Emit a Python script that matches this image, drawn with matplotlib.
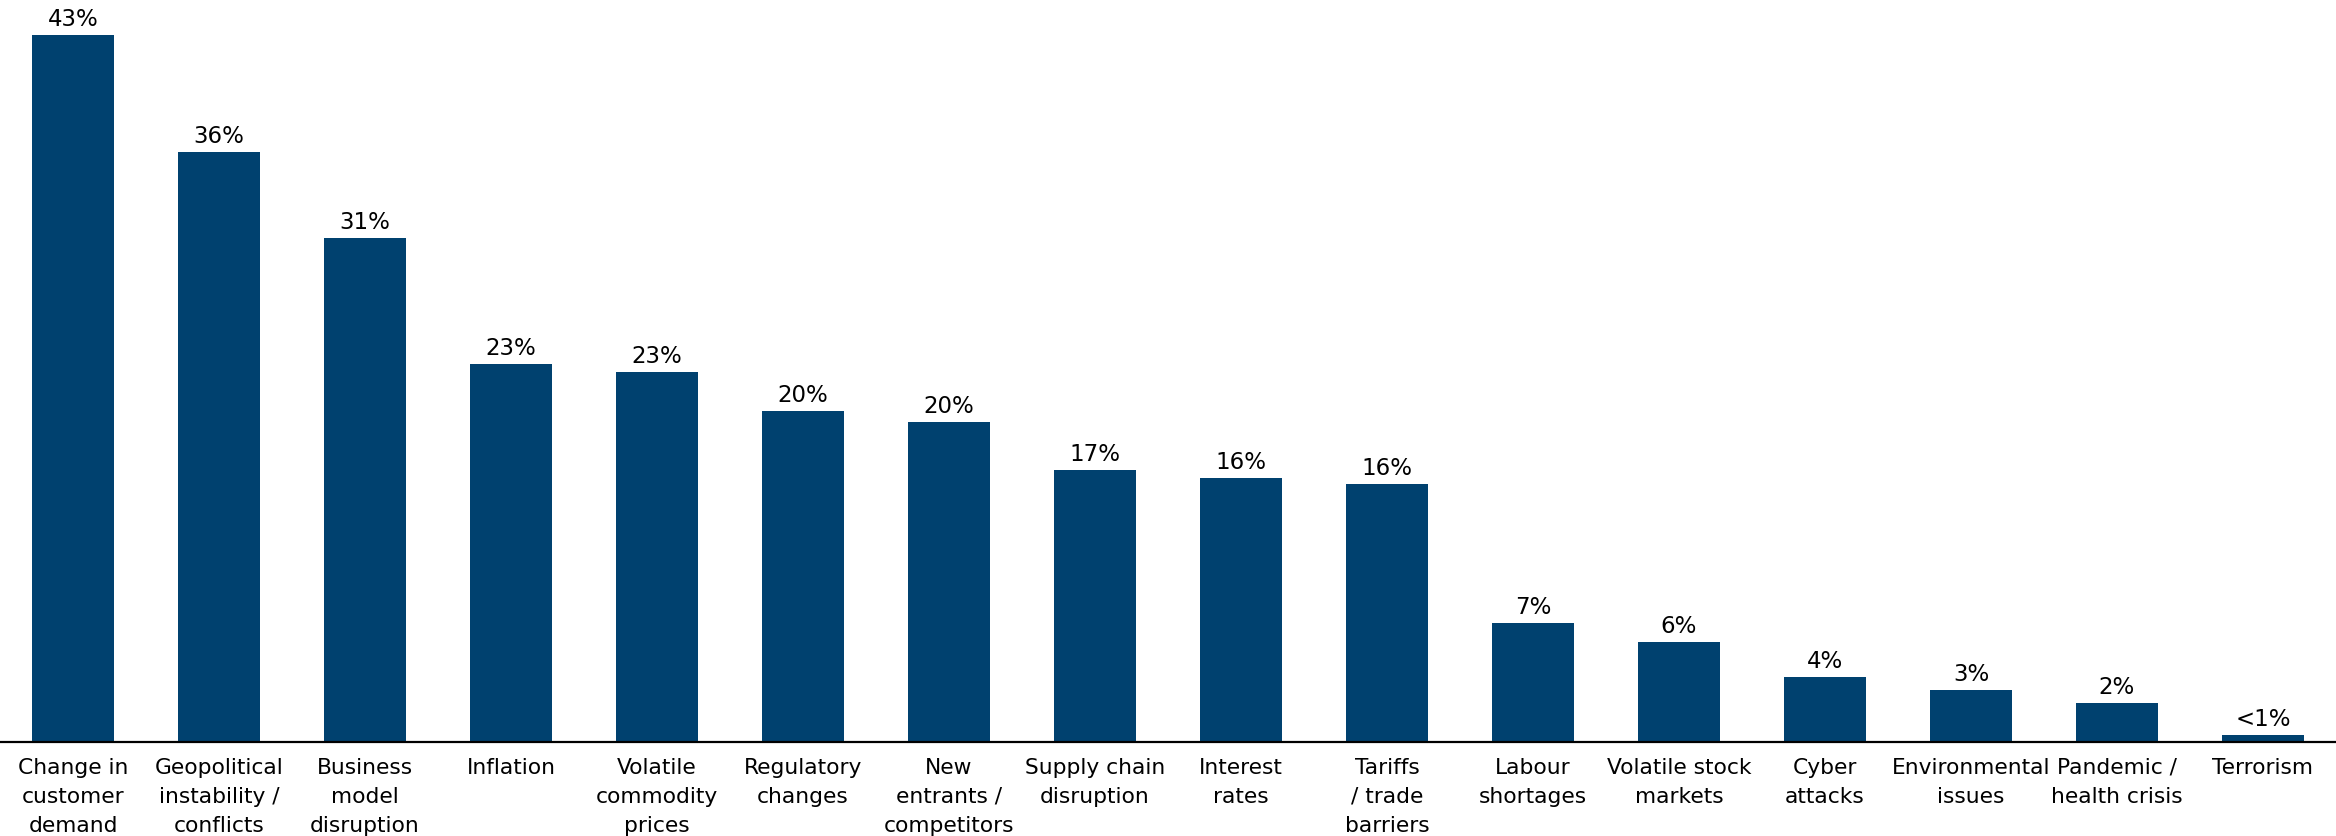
import numpy as np
import matplotlib.pyplot as plt

categories = [
    "Change in\ncustomer\ndemand",
    "Geopolitical\ninstability /\nconflicts",
    "Business\nmodel\ndisruption",
    "Inflation",
    "Volatile\ncommodity\nprices",
    "Regulatory\nchanges",
    "New\nentrants /\ncompetitors",
    "Supply chain\ndisruption",
    "Interest\nrates",
    "Tariffs\n/ trade\nbarriers",
    "Labour\nshortages",
    "Volatile stock\nmarkets",
    "Cyber\nattacks",
    "Environmental\nissues",
    "Pandemic /\nhealth crisis",
    "Terrorism",
]
# share of respondents, %
values = [43.4, 36.2, 30.9, 23.2, 22.7, 20.3, 19.6, 16.7, 16.2, 15.8,
          7.3, 6.1, 4.0, 3.2, 2.4, 0.4]

bar_color = "#00416F"

fig = plt.figure(figsize=(23.36, 8.37), dpi=100)
ax = fig.add_axes([0.0, 0.1127, 1.0, 0.8873])

x = np.arange(len(values))
ax.bar(x, values, width=0.555, color=bar_color)

for xi, v in zip(x, values):
    label = "<1%" if v < 1 else f"{v:.0f}%"
    ax.annotate(label, (xi, v), xytext=(0, 7.2), textcoords="offset points",
                ha="center", va="baseline", fontsize=16.5)

ax.set_xlim(-0.5, 15.5)
ax.set_ylim(0, 45.6)
ax.set_xticks(x)
ax.set_xticklabels(categories, fontsize=15.7, linespacing=1.55)
ax.tick_params(axis="x", length=0, pad=11)
ax.set_yticks([])
for side in ["top", "right", "left"]:
    ax.spines[side].set_visible(False)
ax.spines["bottom"].set_linewidth(1.6)
ax.patch.set_alpha(0)

fig.savefig("out.png", dpi=100)
